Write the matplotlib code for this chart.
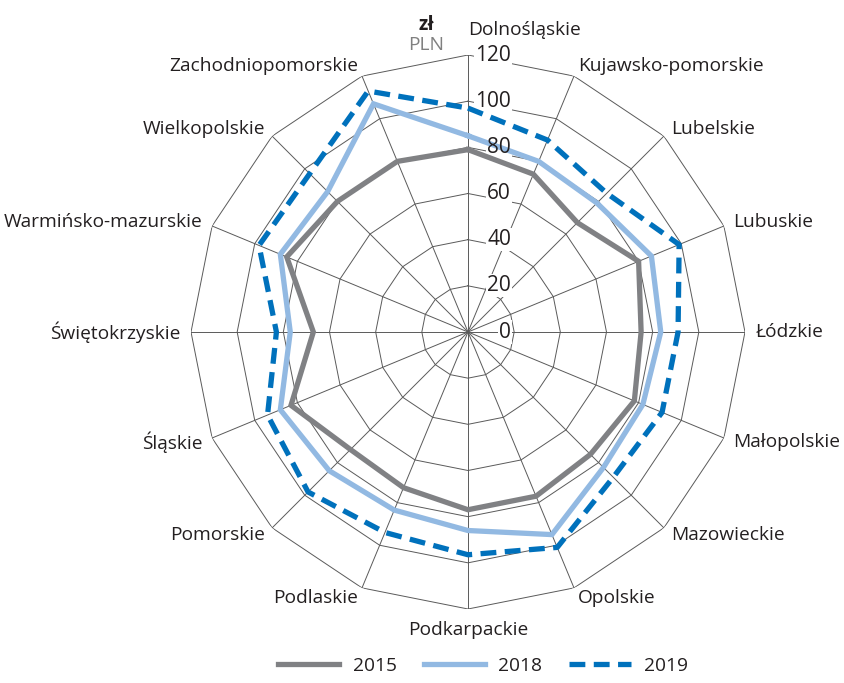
import numpy as np
import matplotlib
matplotlib.use('Agg')
import matplotlib.pyplot as plt
from matplotlib.lines import Line2D

categories = ['Dolnośląskie', 'Kujawsko-pomorskie', 'Lubelskie', 'Lubuskie', 'Łódzkie',
              'Małopolskie', 'Mazowieckie', 'Opolskie', 'Podkarpackie', 'Podlaskie',
              'Pomorskie', 'Śląskie', 'Świętokrzyskie', 'Warmińsko-mazurskie',
              'Wielkopolskie', 'Zachodniopomorskie']
years = ['2015', '2018', '2019']
v2015 = [79, 74, 67, 80, 75, 78, 75, 77, 77, 73, 72, 83, 67, 85, 80, 80]
v2018 = [85, 80, 79, 86, 83.5, 82, 83, 95, 86, 83.5, 85, 88, 77, 88, 86, 107]
v2019 = [97, 90, 85, 99, 91, 91, 89, 101, 96.5, 94, 98, 94, 83, 98, 97, 113]
radial_ticks = [0, 20, 40, 60, 80, 100, 120]

plt.rcParams['font.family'] = ['Open Sans', 'DejaVu Sans']
TXT = '#231f20'
GRID = '#5a5a5a'
FS = 13.8

W, H = 845, 683
fig = plt.figure(figsize=(W / 100, H / 100), dpi=100)
R = 277
cx, cy = 468, 332
ax = fig.add_axes([(cx - R) / W, (H - cy - R) / H, 2 * R / W, 2 * R / H], projection='polar')
ax.set_theta_zero_location('N')
ax.set_theta_direction(-1)
n = len(categories)
theta = np.arange(n) * 2 * np.pi / n
tc = np.append(theta, theta[0])
ax.set_ylim(0, 120)
ax.set_yticks([])
ax.set_xticks(theta)
ax.set_xticklabels([])
ax.tick_params(length=0)
ax.xaxis.grid(True, color=GRID, lw=0.7)
ax.yaxis.grid(False)
ax.spines['polar'].set_visible(False)
ax.patch.set_visible(False)
ax.set_axisbelow(True)

for t in radial_ticks[1:]:
    ax.plot(tc, [t] * (n + 1), color=GRID, lw=0.7, zorder=1)

def closed(v):
    return list(v) + [v[0]]

ax.plot(tc, closed(v2015), color='#808184', lw=3.8, zorder=3, solid_joinstyle='miter')
ax.plot(tc, closed(v2018), color='#92b9e2', lw=3.8, zorder=4, solid_joinstyle='miter')
ax.plot(tc, closed(v2019), color='#0071bc', lw=3.8, zorder=5, linestyle=(0, (3, 1.6)))

for v in radial_ticks:
    # white knock-out behind the label that hides only the grid
    ax.annotate(str(v), xy=(0, v), xytext=(43, 0), textcoords='offset pixels',
                ha='right', va='center', fontsize=15, color='white', zorder=2,
                bbox=dict(boxstyle='square,pad=0.05', fc='white', ec='none'))
    ax.annotate(str(v), xy=(0, v), xytext=(43, 0), textcoords='offset pixels',
                ha='right', va='center', fontsize=15, color=TXT, zorder=6)

for i, c in enumerate(categories):
    deg = i * 360 / n
    if i == 0:
        ax.text(theta[i], 131, c, ha='left', va='center', fontsize=FS, color=TXT)
    elif abs(deg - 180) < 1e-6:
        ax.text(theta[i], 129, c, ha='center', va='center', fontsize=FS, color=TXT)
    elif deg < 180:
        ax.text(theta[i], 124.5, c, ha='left', va='center', fontsize=FS, color=TXT)
    else:
        ax.text(theta[i], 124.5, c, ha='right', va='center', fontsize=FS, color=TXT)

fig.text(426 / W, 1 - 25 / H, 'zł', ha='center', va='center', fontsize=FS, color=TXT, fontweight='bold')
fig.text(426 / W, 1 - 45 / H, 'PLN', ha='center', va='center', fontsize=FS, color='#808080')

handles = [Line2D([], [], color='#808184', lw=3.8),
           Line2D([], [], color='#92b9e2', lw=3.8),
           Line2D([], [], color='#0071bc', lw=3.8, linestyle=(0, (3, 1.6)))]
fig.legend(handles, years, loc='center', bbox_to_anchor=(483 / W, 1 - 666 / H), ncol=3,
           frameon=False, handlelength=3.2, columnspacing=1.4, handletextpad=0.7,
           fontsize=FS, labelcolor=TXT)

fig.savefig('out.png', dpi=100)
